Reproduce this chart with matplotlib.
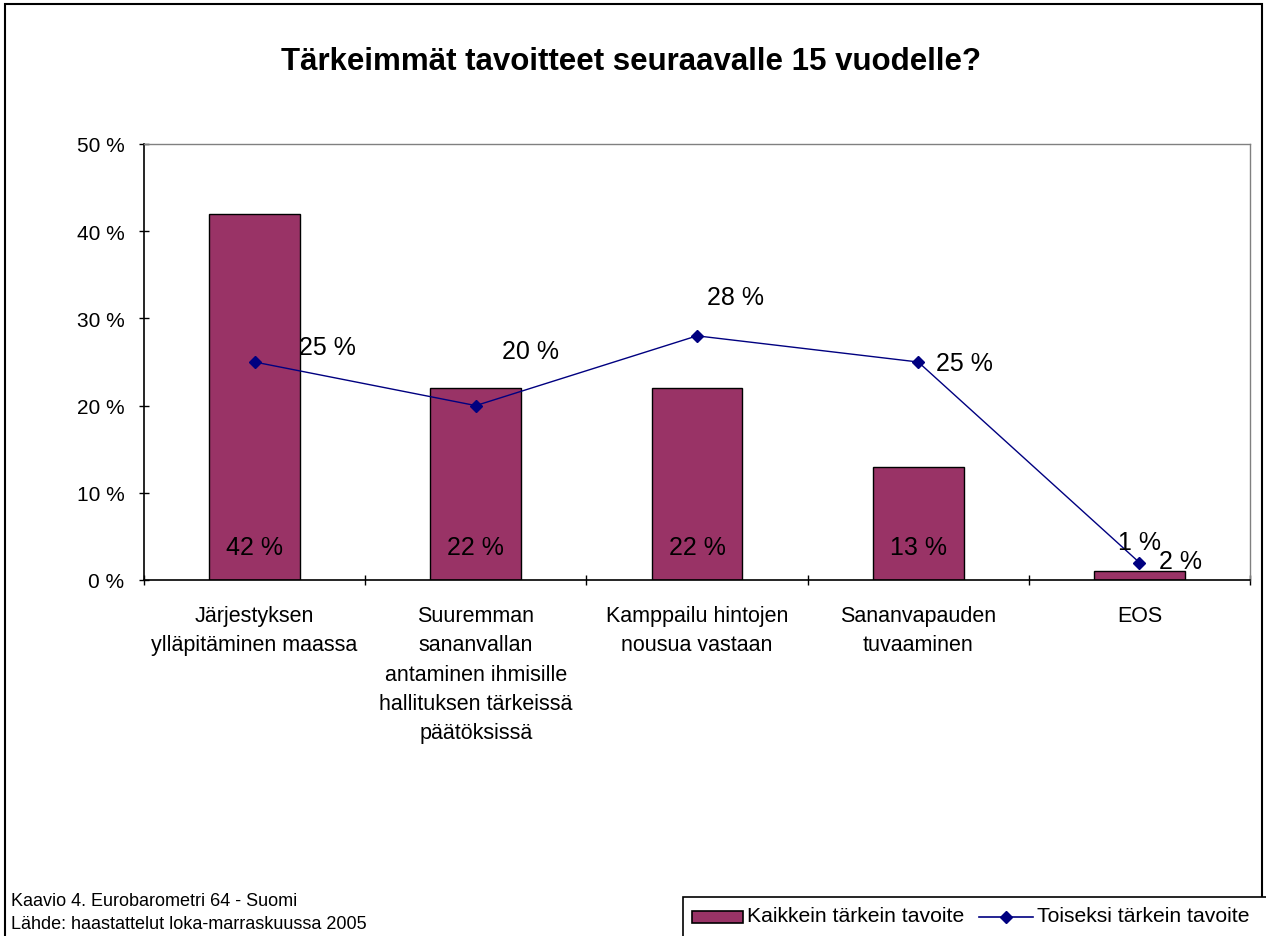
import matplotlib
matplotlib.use("Agg")
import matplotlib.pyplot as plt
from matplotlib.patches import Rectangle
from matplotlib.lines import Line2D
import numpy as np

plt.rcParams['font.family'] = ['Liberation Sans', 'DejaVu Sans']

categories = [
    "Järjestyksen\nylläpitäminen maassa",
    "Suuremman\nsananvallan\nantaminen ihmisille\nhallituksen tärkeissä\npäätöksissä",
    "Kamppailu hintojen\nnousua vastaan",
    "Sananvapauden\ntuvaaminen",
    "EOS",
]
most_important = [42, 22, 22, 13, 1]
second_important = [25, 20, 28, 25, 2]
yticks = [0, 10, 20, 30, 40, 50]
title = "Tärkeimmät tavoitteet seuraavalle 15 vuodelle?"
series_names = ["Kaikkein tärkein tavoite", "Toiseksi tärkein tavoite"]
footnote = ["Kaavio 4. Eurobarometri 64 - Suomi",
            "Lähde: haastattelut loka-marraskuussa 2005"]

W, H = 1266, 937
fig = plt.figure(figsize=(W / 100, H / 100), dpi=100)
fig.patch.set_facecolor("white")

# outer frame
fig.add_artist(Rectangle((5 / W, -0.01), (1262 - 5) / W, 1 - 5 / H + 0.01,
                         transform=fig.transFigure, fill=False,
                         edgecolor="black", linewidth=1.5))

ax = fig.add_axes([144 / W, 1 - 581 / H, (1250 - 144) / W, (581 - 145) / H])
x = np.arange(len(categories))
bar_color = "#993366"
line_color = "#000080"

ax.bar(x, most_important, width=0.41, color=bar_color, edgecolor="black",
       linewidth=1, zorder=2)
ax.plot(x, second_important, color=line_color, linewidth=1, marker="D",
        markersize=6, zorder=3)

ax.set_xlim(-0.5, len(categories) - 0.5)
ax.set_ylim(0, 50)
ax.set_yticks(yticks)
ax.set_yticklabels([f"{v} %" for v in yticks], fontsize=15)
ax.set_xticks(x)
ax.set_xticklabels(categories, fontsize=15.5, linespacing=1.52, color="#000000")
ax.tick_params(axis="x", which="major", length=0, pad=18)
ax.set_xticks(np.arange(-0.5, len(categories)), minor=True)
ax.tick_params(axis="x", which="minor", length=7.2, direction="inout", width=1)
ax.tick_params(axis="y", length=7.2, direction="inout", width=1, pad=10.5)

for s in ["top", "right"]:
    ax.spines[s].set_color("#808080")
    ax.spines[s].set_linewidth(1)
for s in ["left", "bottom"]:
    ax.spines[s].set_color("black")
    ax.spines[s].set_linewidth(1.2)

# bar data labels
bar_label_y = [3.84, 3.84, 3.84, 3.84, 4.36]
for i, v in enumerate(most_important):
    ax.text(i, bar_label_y[i], f"{v} %", ha="center", va="center", fontsize=18, zorder=4)

# line data labels
line_label_pos = [(0.33, 26.7), (0.247, 26.3), (0.174, 32.45), (0.21, 24.9), (0.186, 2.2)]
for i, v in enumerate(second_important):
    dx, yy = line_label_pos[i]
    ax.text(i + dx, yy, f"{v} %", ha="center", va="center", fontsize=18, zorder=4)

fig.text(631 / W, 1 - 62 / H, title, ha="center", va="center",
         fontsize=22.5, fontweight="bold")

fig.text(11 / W, 1 - 902 / H, footnote[0], ha="left", va="center", fontsize=13)
fig.text(11 / W, 1 - 925 / H, footnote[1], ha="left", va="center", fontsize=13)

# legend
fig.add_artist(Rectangle((683 / W, -0.01), (1280 - 683) / W, (937 - 898) / H + 0.01,
                         transform=fig.transFigure, fill=True, facecolor="white",
                         edgecolor="black", linewidth=1.2))
fig.add_artist(Rectangle((692 / W, 1 - 924 / H), (743 - 692) / W, 12 / H,
                         transform=fig.transFigure, facecolor=bar_color,
                         edgecolor="black", linewidth=1.2))
fig.text(747 / W, 1 - 917 / H, series_names[0], ha="left", va="center", fontsize=15.2)
fig.add_artist(Line2D([979 / W, 1033 / W], [1 - 918 / H, 1 - 918 / H],
                      transform=fig.transFigure, color=line_color, linewidth=1.2))
fig.add_artist(Line2D([1006 / W], [1 - 918 / H], transform=fig.transFigure,
                      color=line_color, marker="D", markersize=6, linestyle="none"))
fig.text(1037 / W, 1 - 917 / H, series_names[1], ha="left", va="center", fontsize=15.2)

fig.savefig("out.png", dpi=100, facecolor="white")
